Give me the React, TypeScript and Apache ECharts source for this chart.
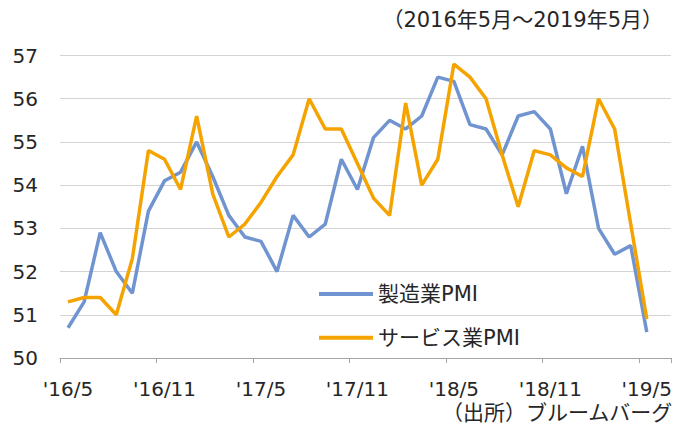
import React, { useEffect, useRef } from "react";
import * as echarts from "echarts";

// Monthly categories: 2016/5 .. 2019/6 (last slot empty, as in the reference axis)
const months: string[] = (() => {
  const out: string[] = [];
  let y = 2016;
  let m = 5;
  for (let i = 0; i < 38; i++) {
    out.push("'" + String(y).slice(2) + "/" + m);
    m++;
    if (m > 12) {
      m = 1;
      y++;
    }
  }
  return out;
})();

const manufacturingPMI: (number | null)[] = [
  50.7, 51.3, 52.9, 52.0, 51.5, 53.4, 54.1, 54.3, 55.0, 54.2, 53.3, 52.8,
  52.7, 52.0, 53.3, 52.8, 53.1, 54.6, 53.9, 55.1, 55.5, 55.3, 55.6, 56.5,
  56.4, 55.4, 55.3, 54.7, 55.6, 55.7, 55.3, 53.8, 54.9, 53.0, 52.4, 52.6,
  50.6, null,
];

const servicesPMI: (number | null)[] = [
  51.3, 51.4, 51.4, 51.0, 52.3, 54.8, 54.6, 53.9, 55.6, 53.8, 52.8, 53.1,
  53.6, 54.2, 54.7, 56.0, 55.3, 55.3, 54.5, 53.7, 53.3, 55.9, 54.0, 54.6,
  56.8, 56.5, 56.0, 54.7, 53.5, 54.8, 54.7, 54.4, 54.2, 56.0, 55.3, 53.1,
  50.9, null,
];

const seriesNames = ["製造業PMI", "サービス業PMI"];
const subtitle = "（2016年5月～2019年5月）";
const sourceText = "（出所）ブルームバーグ";

const FONT = "'DejaVu Sans', 'Noto Sans CJK JP', sans-serif";
const TEXT = "#262626";
const BLUE = "#7094D0";
const ORANGE = "#F5A300";

export default function App() {
  const ref = useRef<HTMLDivElement>(null);
  useEffect(() => {
    if (!ref.current) return;
    const chart = echarts.init(ref.current, undefined, { renderer: "svg" });
    chart.setOption({
      animation: false,
      backgroundColor: "#ffffff",
      textStyle: { fontFamily: FONT },
      grid: { left: 60, right: 4, top: 55.5, bottom: 72 },
      xAxis: {
        type: "category",
        data: months,
        boundaryGap: true,
        axisLine: { show: true, lineStyle: { color: "#a6a6a6", width: 1 } },
        axisTick: { show: true, interval: 5, length: 5, lineStyle: { color: "#a6a6a6" } },
        axisLabel: {
          interval: 5,
          fontSize: 20,
          color: TEXT,
          fontFamily: FONT,
          margin: 21,
        },
        splitLine: { show: false },
      },
      yAxis: {
        type: "value",
        min: 50,
        max: 57,
        interval: 1,
        axisLine: { show: false },
        axisTick: { show: false },
        axisLabel: { fontSize: 20, color: TEXT, fontFamily: FONT, margin: 22 },
        splitLine: { show: true, lineStyle: { color: "#d4d4d4", width: 1 } },
      },
      legend: [
        {
          data: [{ name: seriesNames[0] }],
          left: 319,
          top: 283,
          icon: "rect",
          itemWidth: 54,
          itemHeight: 4,
          itemGap: 0,
          textStyle: { fontSize: 21, color: TEXT, fontFamily: FONT, lineHeight: 22 },
          padding: 0,
        },
        {
          data: [{ name: seriesNames[1] }],
          left: 319,
          top: 326.7,
          icon: "rect",
          itemWidth: 54,
          itemHeight: 4,
          itemGap: 0,
          textStyle: { fontSize: 21, color: TEXT, fontFamily: FONT, lineHeight: 22 },
          padding: 0,
        },
      ],
      series: [
        {
          name: seriesNames[0],
          type: "line",
          data: manufacturingPMI,
          showSymbol: false,
          symbol: "none",
          lineStyle: { color: BLUE, width: 3.5 },
          itemStyle: { color: BLUE },
          z: 2,
        },
        {
          name: seriesNames[1],
          type: "line",
          data: servicesPMI,
          showSymbol: false,
          symbol: "none",
          lineStyle: { color: ORANGE, width: 3.5 },
          itemStyle: { color: ORANGE },
          z: 3,
        },
      ],
      graphic: [
        {
          type: "text",
          right: 12,
          top: 9,
          style: { text: subtitle, fontSize: 21, fill: TEXT, fontFamily: FONT },
        },
        {
          type: "text",
          right: 2,
          top: 402,
          style: { text: sourceText, fontSize: 21, fill: TEXT, fontFamily: FONT },
        },
      ],
    });
    return () => chart.dispose();
  }, []);
  return (
    <div
      ref={ref}
      style={{ position: "fixed", left: 0, top: 0, width: 675, height: 430 }}
    />
  );
}
